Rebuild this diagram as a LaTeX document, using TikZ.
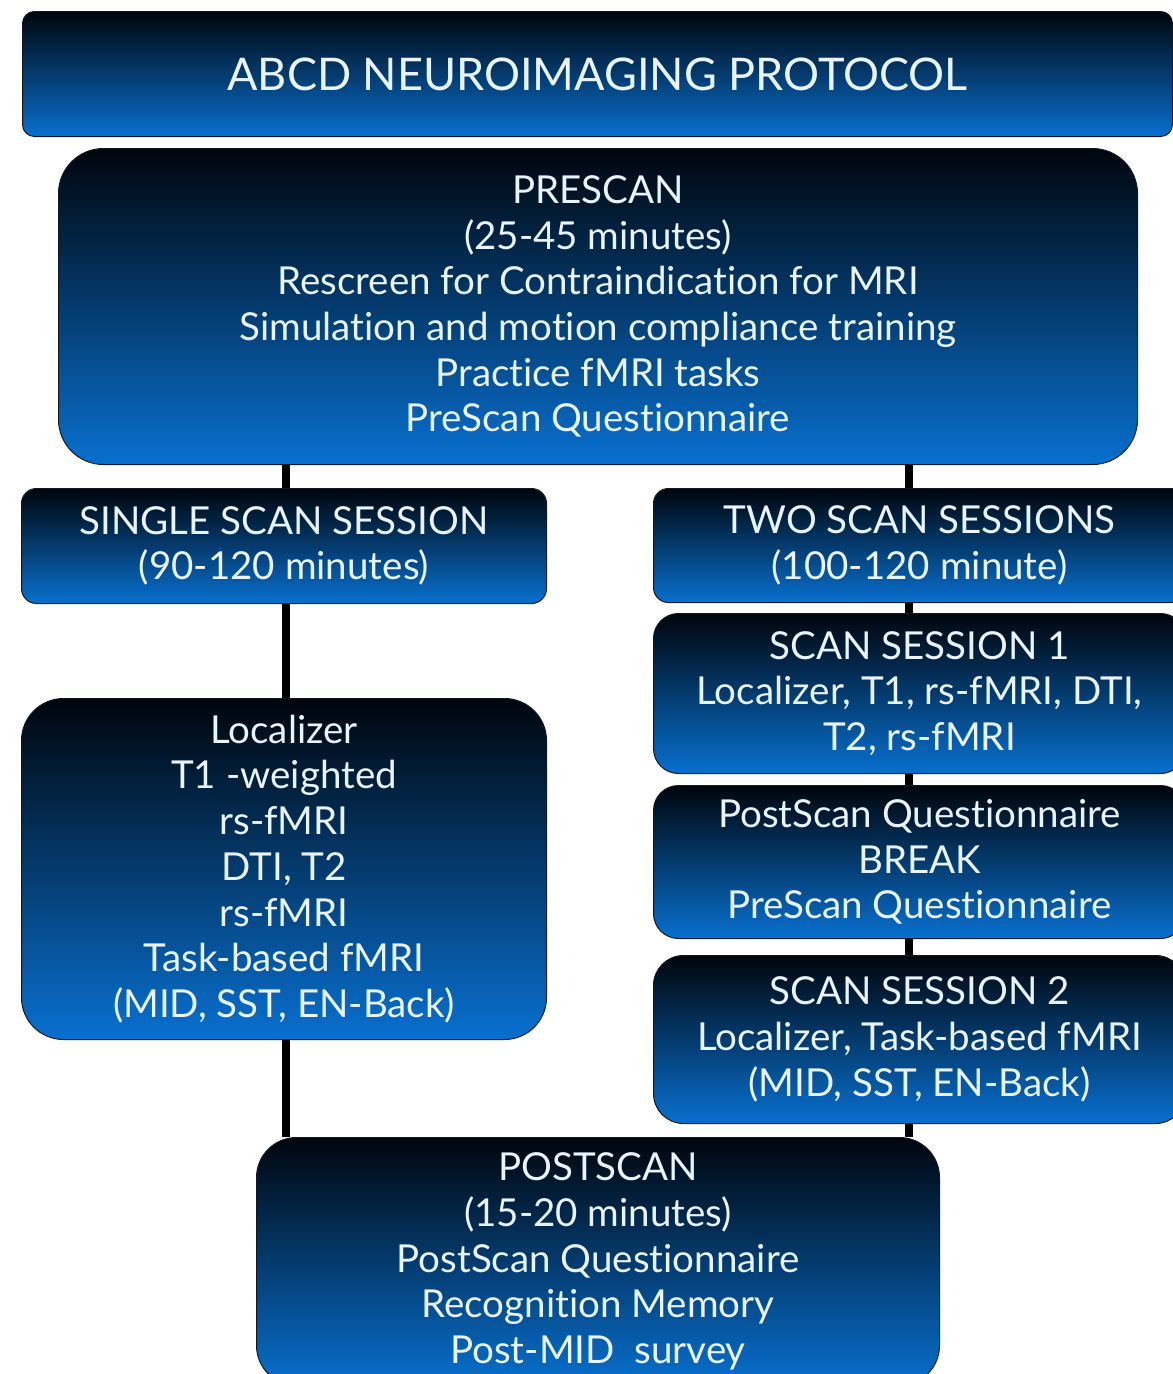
\documentclass[tikz,border=0pt]{standalone}
\usepackage{fontspec}
\setmainfont{Lato}[Ligatures={NoCommon,NoContextual,NoRare}]
\usetikzlibrary{positioning}

\definecolor{boxtop}{RGB}{0,5,12}
\definecolor{boxmid}{RGB}{0,70,138}
\definecolor{boxbot}{RGB}{8,112,207}
\definecolor{boxline}{RGB}{15,25,35}
\definecolor{boxtext}{RGB}{232,244,255}

\begin{document}
\begin{tikzpicture}[x=1pt, y=-1pt, node distance=10pt, line cap=butt]
    \tikzstyle{box}=[draw=boxline, line width=1pt, anchor=north west, align=center, inner sep=0pt,
        text=boxtext, font=\fontsize{38.5}{45.7}\selectfont,
        top color=boxtop, middle color=boxmid, bottom color=boxbot]
    \tikzstyle{link}=[draw=black, line width=7.5pt]

    \useasboundingbox (0,0) rectangle (1173,1374);
    \clip (0,0) rectangle (1173,1374);

    \node[box, rounded corners=12pt, minimum width=1150pt, minimum height=125pt, font=\fontsize{45}{50}\selectfont]
        (b_title) at (22,11) {ABCD NEUROIMAGING PROTOCOL};
    \node[box, rounded corners=45pt, minimum width=1079pt, minimum height=316pt]
        (b_pre) at (58,148) {PRESCAN\\(25-45 minutes)\\Rescreen for Contraindication for MRI\\Simulation and motion compliance training\\Practice fMRI tasks\\PreScan Questionnaire};

    % left column
    \node[box, rounded corners=15pt, minimum width=525pt, minimum height=115pt]
        (b_single) at (21,488) {SINGLE SCAN SESSION\\(90-120 minutes)};
    \node[box, rounded corners=42pt, minimum width=525pt, minimum height=341pt, below=94pt of b_single]
        (b_loc) {Localizer\\T1 -weighted\\rs-fMRI\\DTI, T2\\rs-fMRI\\Task-based fMRI\\(MID, SST, EN-Back)};

    % right column
    \node[box, rounded corners=15pt, minimum width=532pt, minimum height=114pt]
        (b_two) at (653,488) {TWO SCAN SESSIONS\\(100-120 minute)};
    \node[box, rounded corners=25pt, minimum width=532pt, minimum height=160pt, below=of b_two]
        (b_s1) {SCAN SESSION 1\\Localizer, T1, rs-fMRI, DTI,\\T2, rs-fMRI};
    \node[box, rounded corners=25pt, minimum width=532pt, minimum height=153pt, below=11pt of b_s1]
        (b_brk) {PostScan Questionnaire\\BREAK\\PreScan Questionnaire};
    \node[box, rounded corners=30pt, minimum width=532pt, minimum height=168pt, below=16pt of b_brk]
        (b_s2) {SCAN SESSION 2\\Localizer, Task-based fMRI\\(MID, SST, EN-Back)};

    \node[box, rounded corners=40pt, minimum width=683pt, minimum height=248pt]
        (b_post) at (256,1137) {POSTSCAN\\(15-20 minutes)\\PostScan Questionnaire\\Recognition Memory\\Post-MID\ \ survey};

    \coordinate (c_l) at (286,0);
    \coordinate (c_r) at (909,0);

    \path[link]
    (b_pre.south -| c_l) edge (b_single.north -| c_l)
    (b_single.south -| c_l) edge (b_loc.north -| c_l)
    (b_loc.south -| c_l) edge (b_post.north -| c_l)
    (b_pre.south -| c_r) edge (b_two.north -| c_r)
    (b_two.south -| c_r) edge (b_s1.north -| c_r)
    (b_s1.south -| c_r) edge (b_brk.north -| c_r)
    (b_brk.south -| c_r) edge (b_s2.north -| c_r)
    (b_s2.south -| c_r) edge (b_post.north -| c_r);
\end{tikzpicture}
\end{document}
